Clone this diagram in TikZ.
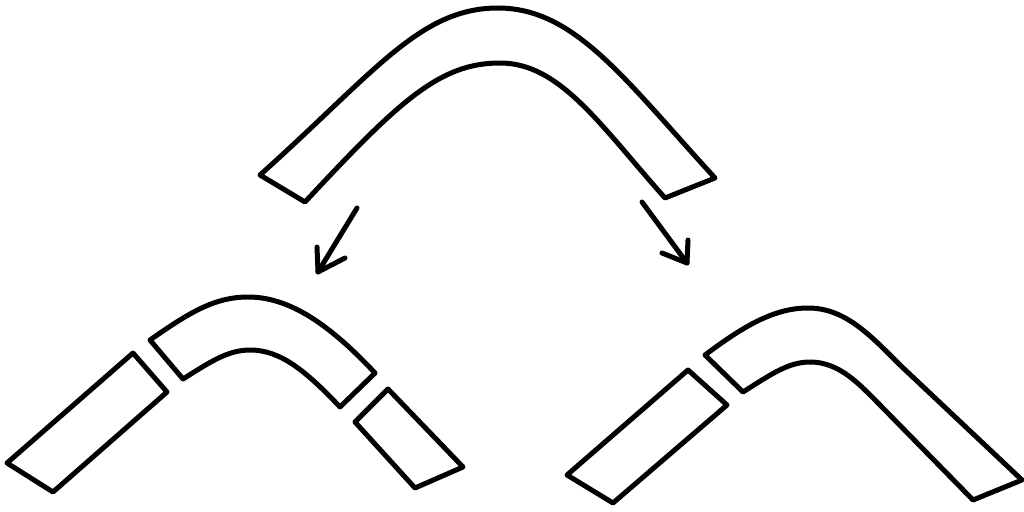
\documentclass[tikz,border=0pt]{standalone}
\begin{document}
\begin{tikzpicture}[x=1pt,y=-1pt,
  outline/.style={draw=black,line width=5pt,line join=round,line cap=round},
  arr/.style={draw=black,line width=5pt,line cap=round,line join=round}]
\useasboundingbox (0,0) rectangle (1024,511);
% top shape
\draw[outline] (260,175) .. controls (375,72) and (420,8) .. (498,8)
  .. controls (575,8) and (625,80) .. (715,178) -- (665,198)
  .. controls (600,125) and (560,63) .. (500,63)
  .. controls (440,63) and (400,100) .. (305,202) -- cycle;
% arrows
\coordinate (a1s) at (357,208); \coordinate (a1e) at (318,272);
\coordinate (a2s) at (642,202); \coordinate (a2e) at (687,263);
\draw[arr] (a1s) -- (a1e);
\draw[arr] (317,247) -- (a1e) -- (345,258);
\draw[arr] (a2s) -- (a2e);
\draw[arr] (688,240) -- (a2e) -- (662,253);
% bottom left
\draw[outline] (7,463) -- (53,492) -- (167,392) -- (133,353) -- cycle;
\draw[outline] (150,340) .. controls (190,312) and (215,297) .. (248,297)
  .. controls (290,297) and (330,325) .. (375,373) -- (340,407)
  .. controls (305,370) and (280,350) .. (250,350)
  .. controls (228,350) and (210,362) .. (183,379) -- cycle;
\draw[outline] (355,422) -- (388,389) -- (463,467) -- (415,488) -- cycle;
% bottom right
\draw[outline] (567,475) -- (613,503) -- (727,405) -- (688,370) -- cycle;
\draw[outline] (705,355) .. controls (745,325) and (775,308) .. (808,308)
  .. controls (845,308) and (870,335) .. (900,365) -- (1022,480) -- (973,500)
  -- (880,405) .. controls (860,385) and (840,362) .. (810,362)
  .. controls (788,362) and (770,375) .. (743,392) -- cycle;
\end{tikzpicture}
\end{document}
